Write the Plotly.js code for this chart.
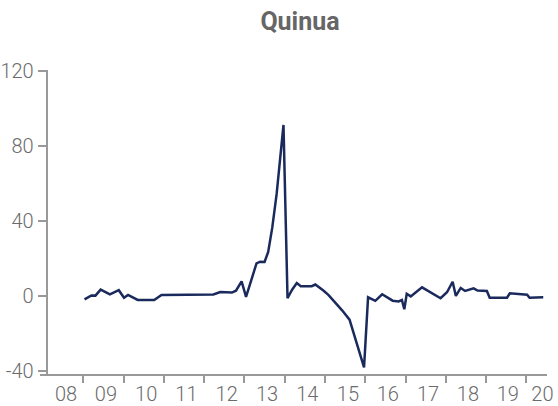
<!DOCTYPE html>
<html>
<head>
<meta charset="utf-8">
<script src="https://cdn.plot.ly/plotly-3.0.1.min.js"></script>
<style>html,body{margin:0;padding:0;background:#fff;}#chart{width:558px;height:406px;}</style>
</head>
<body>
<div id="chart"></div>
<script>
// Time in decimal years
var dates = [2009.03,2009.20,2009.30,2009.43,2009.66,2009.88,2010.01,2010.11,2010.35,2010.76,
  2010.94,2012.23,2012.40,2012.69,2012.79,2012.93,2013.04,2013.30,2013.39,2013.50,
  2013.59,2013.69,2013.80,2013.89,2013.97,2014.07,2014.18,2014.30,2014.40,2014.67,
  2014.76,2014.96,2015.09,2015.42,2015.61,2015.97,2016.07,2016.25,2016.42,2016.68,
  2016.83,2016.91,2016.97,2017.03,2017.13,2017.41,2017.87,2018.03,2018.17,2018.25,
  2018.37,2018.48,2018.69,2018.79,2019.02,2019.09,2019.52,2019.59,2020.02,2020.08,2020.42];
var values = [-1.8,0.3,0.2,3.4,0.9,3.1,-0.9,0.6,-2.1,-2.1,
  0.5,0.8,2.1,1.8,2.8,7.8,-0.5,17.4,18.3,18.1,
  23.5,36.3,54.4,72.5,91.2,-1.2,3.2,6.9,5.2,5.2,
  6.1,2.9,0.5,-7.5,-12.6,-38.1,-0.7,-2.6,0.9,-2.5,
  -2.9,-2.1,-7.1,1.2,-0.2,4.6,-1.2,2.0,7.6,0,
  4.3,2.7,4.1,2.9,2.7,-0.9,-0.9,1.4,0.7,-0.9,-0.7];
var yearStarts = [2009,2010,2011,2012,2013,2014,2015,2016,2017,2018,2019,2020];
var labelPos = [2008.57,2009.56,2010.56,2011.56,2012.56,2013.56,2014.56,2015.57,2016.56,2017.56,2018.55,2019.54,2020.40];
var tickLabels = ['08','09','10','11','12','13','14','15','16','17','18','19','20'];
var yTicks = [-40,0,40,80,120];
var yTickText = ['-40','0','40','80','120'];

var xRange = [2007.924, 2020.513];
var yRange = [-41.6, 120.5];
var tickFont = {family: 'Roboto, sans-serif', size: 20, weight: 300, color: '#6b6b6b'};

var trace = {
  x: dates, y: values, type: 'scatter', mode: 'lines',
  line: {color: '#1b2a5c', width: 2.5},
  hoverinfo: 'skip', showlegend: false
};
var labelTrace = {x: [xRange[0]], y: [yRange[0]], xaxis: 'x2', yaxis: 'y', type: 'scatter', mode: 'markers',
  marker: {opacity: 0}, hoverinfo: 'skip', showlegend: false};

var layout = {
  width: 558, height: 406,
  margin: {l: 40, r: 11, t: 70, b: 32, pad: 0},
  paper_bgcolor: '#ffffff', plot_bgcolor: '#ffffff',
  title: {text: '<b>Quinua</b>', x: 300/558, xref: 'container', xanchor: 'center', y: 1 - 21/406, yref: 'container', yanchor: 'middle',
    font: {family: 'Roboto, sans-serif', size: 25, color: '#666666'}},
  xaxis: {range: xRange, tickmode: 'array', tickvals: yearStarts, showticklabels: false,
    ticks: 'outside', ticklen: 7, tickwidth: 2, tickcolor: '#999999',
    showline: true, linecolor: '#999999', linewidth: 2, showgrid: false, zeroline: false, fixedrange: true},
  xaxis2: {range: xRange, overlaying: 'x', anchor: 'y', side: 'bottom', tickmode: 'array', tickvals: labelPos, ticktext: tickLabels,
    ticks: '', showline: false, showgrid: false, zeroline: false, tickfont: tickFont, ticklabelstandoff: 6},
  yaxis: {range: yRange, anchor: 'free', position: 6.7/507, tickmode: 'array', tickvals: yTicks, ticktext: yTickText,
    ticks: 'outside', ticklen: 8, tickwidth: 2, tickcolor: '#999999', tickfont: tickFont,
    showline: true, linecolor: '#999999', linewidth: 2, showgrid: false, zeroline: false, fixedrange: true}
};
Plotly.newPlot('chart', [trace, labelTrace], layout, {staticPlot: true, displayModeBar: false});
</script>
</body>
</html>
